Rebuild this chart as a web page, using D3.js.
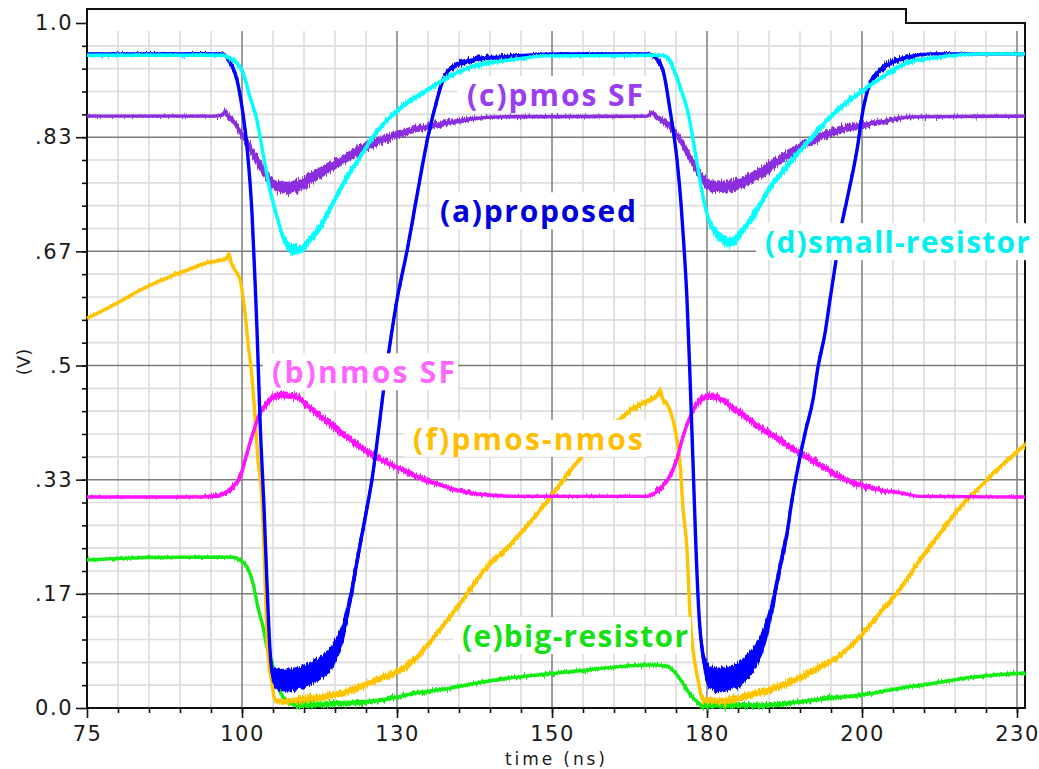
<!DOCTYPE html>
<html>
<head>
<meta charset="utf-8">
<script src="https://cdn.jsdelivr.net/npm/d3@7"></script>
<style>
  html, body { margin: 0; padding: 0; background: #ffffff; }
  svg { display: block; }
</style>
</head>
<body>
<svg id="chart" width="1039" height="769"></svg>
<script>
// ---- axis ticks -------------------------------------------------------
const xTickValues = [75, 100.8, 126.6, 152.4, 178.2, 204, 229.8];
const xTickLabels = ["75", "100", "130", "150", "180", "200", "230"];
const yTickValues = [0, 1 / 6, 2 / 6, 3 / 6, 4 / 6, 5 / 6, 1];
const yTickLabels = ["0.0", ".17", ".33", ".5", ".67", ".83", "1.0"];

// ---- waveforms: [time (ns), voltage (V), noise half-width (V)] --------
const proposed = [
  [75.00, 0.955, 0], [85.49, 0.955, 0], [97.47, 0.955, 0], [98.80, 0.943, 0.003],
  [99.97, 0.917, 0.003], [100.80, 0.877, 0.003], [101.63, 0.819, 0.003], [102.46, 0.723, 0.003],
  [102.96, 0.625, 0.003], [103.30, 0.552, 0.003], [103.80, 0.420, 0.003], [104.46, 0.293, 0.004],
  [104.96, 0.182, 0.004], [105.46, 0.085, 0.006], [105.96, 0.048, 0.010], [107.12, 0.041, 0.015],
  [108.79, 0.041, 0.016], [110.45, 0.044, 0.016], [112.12, 0.050, 0.016], [113.78, 0.058, 0.016],
  [115.95, 0.077, 0.016], [117.61, 0.111, 0.013], [118.78, 0.158, 0.010], [120.44, 0.238, 0.007],
  [122.44, 0.334, 0.005], [124.94, 0.502, 0.004], [126.60, 0.596, 0.003], [128.26, 0.667, 0.003],
  [130.09, 0.756, 0.003], [131.76, 0.834, 0.003], [133.26, 0.888, 0.003], [134.26, 0.917, 0.003],
  [135.92, 0.936, 0.003], [139.25, 0.946, 0.003], [143.74, 0.950, 0.002], [153.73, 0.955, 0],
  [168.21, 0.955, 0], [169.54, 0.950, 0.002], [170.87, 0.931, 0.003], [172.04, 0.873, 0.003],
  [173.21, 0.800, 0.003], [173.87, 0.737, 0.003], [174.37, 0.673, 0.003], [174.87, 0.596, 0.003],
  [175.37, 0.483, 0.003], [175.87, 0.358, 0.004], [176.37, 0.231, 0.004], [176.87, 0.136, 0.006],
  [177.53, 0.077, 0.010], [178.70, 0.044, 0.016], [180.36, 0.041, 0.017], [183.19, 0.048, 0.017],
  [185.85, 0.070, 0.017], [187.52, 0.099, 0.015], [189.18, 0.153, 0.010], [190.35, 0.206, 0.008],
  [191.52, 0.255, 0.007], [192.35, 0.304, 0.005], [193.35, 0.352, 0.004], [194.51, 0.401, 0.004],
  [195.84, 0.450, 0.003], [196.68, 0.498, 0.003], [197.84, 0.547, 0.003], [198.67, 0.596, 0.003],
  [199.51, 0.644, 0.003], [200.34, 0.693, 0.003], [201.50, 0.742, 0.003], [203.17, 0.815, 0.003],
  [204.17, 0.873, 0.003], [205.33, 0.912, 0.003], [207.00, 0.931, 0.003], [209.16, 0.943, 0.003],
  [211.49, 0.950, 0.002], [215.82, 0.955, 0], [231.13, 0.955, 0]
];

const nmosSF = [
  [75.00, 0.308, 0], [90.98, 0.308, 0], [96.31, 0.309, 0.002], [97.97, 0.314, 0.002],
  [99.30, 0.323, 0.003], [100.47, 0.337, 0.003], [101.63, 0.372, 0.003], [102.63, 0.401, 0.003],
  [103.80, 0.431, 0.003], [104.96, 0.445, 0.004], [105.96, 0.454, 0.004], [107.96, 0.457, 0.004],
  [109.95, 0.454, 0.004], [111.62, 0.442, 0.004], [114.28, 0.423, 0.004], [117.11, 0.403, 0.004],
  [119.94, 0.385, 0.004], [122.61, 0.369, 0.004], [125.43, 0.356, 0.003], [128.26, 0.345, 0.003],
  [130.93, 0.334, 0.003], [133.76, 0.326, 0.002], [136.59, 0.318, 0.002], [140.41, 0.312, 0.001],
  [147.07, 0.309, 0], [168.21, 0.309, 0], [169.54, 0.314, 0.002], [170.71, 0.323, 0.003],
  [172.04, 0.339, 0.003], [173.21, 0.364, 0.003], [174.20, 0.396, 0.003], [175.87, 0.434, 0.004],
  [177.53, 0.453, 0.004], [179.20, 0.455, 0.004], [180.70, 0.450, 0.004], [183.69, 0.431, 0.004],
  [187.02, 0.410, 0.004], [190.35, 0.391, 0.004], [193.68, 0.372, 0.004], [197.01, 0.355, 0.004],
  [200.34, 0.337, 0.003], [203.67, 0.326, 0.003], [207.00, 0.318, 0.002], [210.32, 0.314, 0.001],
  [213.65, 0.309, 0], [231.13, 0.308, 0]
];

const pmosSF = [
  [75.00, 0.864, 0], [96.31, 0.864, 0], [97.47, 0.866, 0.002], [97.97, 0.870, 0.003],
  [98.47, 0.864, 0.003], [99.30, 0.857, 0.004], [100.97, 0.834, 0.005], [102.63, 0.810, 0.006],
  [104.30, 0.785, 0.007], [105.96, 0.765, 0.007], [108.29, 0.759, 0.008], [110.45, 0.764, 0.008],
  [112.62, 0.775, 0.007], [115.45, 0.790, 0.007], [118.28, 0.804, 0.006], [120.94, 0.818, 0.006],
  [123.77, 0.828, 0.005], [126.60, 0.837, 0.005], [129.26, 0.844, 0.004], [132.59, 0.851, 0.004],
  [135.92, 0.855, 0.003], [139.25, 0.860, 0.002], [143.74, 0.863, 0.001], [168.21, 0.864, 0],
  [169.04, 0.869, 0.002], [169.71, 0.863, 0.003], [171.54, 0.854, 0.004], [173.71, 0.829, 0.005],
  [175.87, 0.796, 0.006], [177.53, 0.771, 0.007], [179.20, 0.761, 0.008], [181.53, 0.761, 0.008],
  [183.69, 0.766, 0.007], [187.02, 0.781, 0.007], [190.35, 0.800, 0.006], [193.68, 0.819, 0.006],
  [197.01, 0.834, 0.005], [200.34, 0.844, 0.005], [203.67, 0.851, 0.004], [207.00, 0.855, 0.003],
  [210.32, 0.861, 0.002], [212.49, 0.863, 0.001], [231.13, 0.864, 0]
];

const smallResistor = [
  [75.00, 0.953, 0], [97.47, 0.953, 0], [98.80, 0.949, 0.002], [100.97, 0.927, 0.003],
  [102.13, 0.892, 0.003], [103.30, 0.858, 0.003], [104.30, 0.810, 0.003], [105.46, 0.756, 0.004],
  [106.63, 0.717, 0.004], [107.62, 0.688, 0.005], [109.29, 0.669, 0.006], [110.45, 0.669, 0.006],
  [111.62, 0.679, 0.005], [113.78, 0.702, 0.005], [115.95, 0.737, 0.004], [118.28, 0.775, 0.004],
  [120.44, 0.804, 0.003], [122.61, 0.834, 0.003], [124.94, 0.858, 0.003], [128.26, 0.883, 0.003],
  [131.59, 0.902, 0.002], [134.92, 0.920, 0.002], [137.09, 0.930, 0.002], [140.41, 0.939, 0.002],
  [145.41, 0.946, 0.001], [151.57, 0.952, 0], [170.37, 0.953, 0], [171.54, 0.950, 0.002],
  [173.71, 0.907, 0.003], [175.04, 0.869, 0.003], [176.54, 0.796, 0.003], [177.53, 0.746, 0.004],
  [178.70, 0.708, 0.004], [180.36, 0.688, 0.005], [182.03, 0.679, 0.006], [184.19, 0.698, 0.005],
  [186.52, 0.727, 0.005], [189.18, 0.766, 0.004], [192.01, 0.796, 0.004], [194.84, 0.825, 0.003],
  [198.18, 0.858, 0.003], [202.00, 0.888, 0.003], [205.83, 0.912, 0.002], [209.16, 0.931, 0.002],
  [211.49, 0.942, 0.002], [215.82, 0.949, 0.001], [224.14, 0.955, 0], [231.13, 0.955, 0]
];

const bigResistor = [
  [75.00, 0.216, 0], [79.66, 0.218, 0], [90.48, 0.220, 0], [99.30, 0.220, 0],
  [100.47, 0.216, 0.001], [101.63, 0.206, 0.001], [102.63, 0.182, 0.001], [103.46, 0.147, 0.001],
  [104.30, 0.118, 0.001], [104.96, 0.089, 0.001], [105.79, 0.066, 0.002], [106.63, 0.036, 0.002],
  [107.62, 0.016, 0.002], [108.79, 0.007, 0.003], [110.45, 0.004, 0.003], [115.45, 0.006, 0.003],
  [118.78, 0.007, 0.003], [124.27, 0.012, 0.002], [129.93, 0.022, 0.002], [135.42, 0.029, 0.001],
  [140.91, 0.038, 0.001], [146.57, 0.045, 0.001], [152.07, 0.050, 0.001], [157.56, 0.055, 0.001],
  [163.22, 0.060, 0.001], [168.71, 0.063, 0.001], [171.54, 0.061, 0.001], [172.54, 0.055, 0.001],
  [174.20, 0.036, 0.002], [175.37, 0.020, 0.002], [176.54, 0.009, 0.002], [177.53, 0.003, 0.003],
  [188.18, 0.004, 0.003], [193.68, 0.009, 0.002], [199.17, 0.015, 0.002], [204.00, 0.019, 0.001],
  [210.32, 0.029, 0.001], [215.82, 0.036, 0.001], [221.48, 0.044, 0.001], [231.13, 0.051, 0.001]
];

const pmosNmos = [
  [75.00, 0.569, 0], [79.99, 0.591, 0], [83.82, 0.610, 0], [88.32, 0.628, 0.001],
  [91.64, 0.639, 0.001], [94.97, 0.650, 0.001], [97.47, 0.654, 0.001], [98.30, 0.657, 0.002],
  [98.64, 0.663, 0.002], [98.97, 0.651, 0.002], [99.64, 0.639, 0.002], [100.47, 0.625, 0.002],
  [101.30, 0.577, 0.002], [101.80, 0.533, 0.002], [102.46, 0.483, 0.002], [102.96, 0.425, 0.002],
  [103.46, 0.362, 0.002], [104.13, 0.304, 0.002], [104.46, 0.231, 0.002], [104.80, 0.143, 0.002],
  [105.13, 0.077, 0.002], [105.79, 0.036, 0.002], [106.29, 0.012, 0.003], [107.12, 0.009, 0.003],
  [110.45, 0.012, 0.004], [115.95, 0.019, 0.004], [118.78, 0.025, 0.004], [121.61, 0.035, 0.004],
  [124.27, 0.045, 0.004], [127.10, 0.055, 0.004], [129.93, 0.074, 0.003], [132.59, 0.102, 0.003],
  [135.42, 0.133, 0.003], [138.25, 0.166, 0.003], [140.91, 0.199, 0.003], [145.41, 0.238, 0.003],
  [151.57, 0.301, 0.003], [157.06, 0.364, 0.003], [161.22, 0.399, 0.003], [165.38, 0.434, 0.003],
  [168.71, 0.450, 0.003], [170.04, 0.457, 0.003], [170.37, 0.464, 0.003], [170.87, 0.450, 0.003],
  [171.54, 0.444, 0.003], [172.54, 0.420, 0.002], [173.21, 0.391, 0.002], [173.71, 0.358, 0.002],
  [174.20, 0.293, 0.002], [174.87, 0.231, 0.002], [175.37, 0.136, 0.002], [175.87, 0.085, 0.002],
  [176.70, 0.041, 0.003], [177.53, 0.012, 0.003], [180.36, 0.010, 0.004], [185.85, 0.020, 0.004],
  [191.52, 0.036, 0.004], [197.01, 0.060, 0.004], [199.84, 0.074, 0.003], [203.67, 0.104, 0.003],
  [207.00, 0.139, 0.003], [209.83, 0.168, 0.003], [213.65, 0.216, 0.003], [216.98, 0.255, 0.003],
  [220.31, 0.293, 0.003], [223.64, 0.323, 0.002], [226.97, 0.352, 0.002], [231.13, 0.384, 0.002]
];

// ---- drawing order and colours -----------------------------------------
const series = [
  { key: "big-resistor",   values: bigResistor,   color: "#14ec14" },
  { key: "pmos-nmos",      values: pmosNmos,      color: "#ffc400" },
  { key: "nmos SF",        values: nmosSF,        color: "#ff14ff" },
  { key: "pmos SF",        values: pmosSF,        color: "#8a2ee0" },
  { key: "proposed",       values: proposed,      color: "#0000ff" },
  { key: "small-resistor", values: smallResistor, color: "#00ffff" }
];

// in-plot labels: anchor is the left end of the baseline, in data units
const labels = [
  { text: "(a)proposed",       at: [133.76, 0.709], width: 196, color: "#0000dc" },
  { text: "(b)nmos SF",        at: [105.79, 0.474], width: 183, color: "#ff66ff" },
  { text: "(c)pmos SF",        at: [138.25, 0.879], width: 176, color: "#9a3cf0" },
  { text: "(d)small-resistor", at: [187.85, 0.664], width: 265, color: "#00f0f0" },
  { text: "(e)big-resistor",   at: [137.42, 0.089], width: 226, color: "#14e014" },
  { text: "(f)pmos-nmos",      at: [129.26, 0.377], width: 230, color: "#ffbe00" }
];

// ---- layout ------------------------------------------------------------
const svg = d3.select("#chart");
const x = d3.scaleLinear().domain([75, 231.13]).range([87, 1025]);
const y = d3.scaleLinear().domain([0, 1]).range([708, 23]);
const gridTop = 31;
const xStep = xTickValues[1] - xTickValues[0];
const minorX = d3.range(1, 31).map(i => 75 + i * xStep / 5);
const minorY = d3.range(1, 30).map(i => i / 30);

// vertical jitter used to roughen the noisy stretches of each trace
const defs = svg.append("defs");
const jitter = defs.append("filter").attr("id", "jitter")
  .attr("filterUnits", "userSpaceOnUse")
  .attr("x", 0).attr("y", 0).attr("width", 1039).attr("height", 769)
  .attr("color-interpolation-filters", "sRGB");
jitter.append("feTurbulence").attr("type", "fractalNoise")
  .attr("baseFrequency", "0.75 0.06").attr("numOctaves", 2).attr("seed", 7)
  .attr("result", "noise");
jitter.append("feColorMatrix").attr("in", "noise").attr("type", "matrix")
  .attr("values", "0 0 0 0 0.5  1 0 0 0 0  0 0 0 0 0  0 0 0 0 1")
  .attr("result", "shift");
jitter.append("feDisplacementMap").attr("in", "SourceGraphic").attr("in2", "shift")
  .attr("scale", 9).attr("xChannelSelector", "R").attr("yChannelSelector", "G");

// grid: light minor lines first, darker major lines on top
const grid = svg.append("g");
grid.selectAll("line.vminor").data(minorX.filter((d, i) => (i + 1) % 5 !== 0)).join("line")
  .attr("x1", d => x(d)).attr("x2", d => x(d))
  .attr("y1", gridTop).attr("y2", y(0))
  .attr("stroke", "#dddddd").attr("stroke-width", 1.7);
grid.selectAll("line.hminor").data(minorY.filter((d, i) => (i + 1) % 5 !== 0)).join("line")
  .attr("x1", x.range()[0]).attr("x2", x.range()[1])
  .attr("y1", d => y(d)).attr("y2", d => y(d))
  .attr("stroke", "#dddddd").attr("stroke-width", 1.7);
grid.selectAll("line.vmajor").data(xTickValues.slice(1)).join("line")
  .attr("x1", d => x(d)).attr("x2", d => x(d))
  .attr("y1", gridTop).attr("y2", y(0))
  .attr("stroke", "#7c7c7c").attr("stroke-width", 1.5);
grid.selectAll("line.hmajor").data(yTickValues.slice(1, -1)).join("line")
  .attr("x1", x.range()[0]).attr("x2", x.range()[1])
  .attr("y1", d => y(d)).attr("y2", d => y(d))
  .attr("stroke", "#7c7c7c").attr("stroke-width", 1.5);

// frame with the raised strip along the top
svg.append("path")
  .attr("d", `M${x(75)},${y(0)} V9 H906 V${y(1)} H${x.range()[1]} V${y(0)} Z`)
  .attr("fill", "none").attr("stroke", "#111").attr("stroke-width", 2);

// ---- axes --------------------------------------------------------------
const tickFont = "'DejaVu Sans', Verdana, sans-serif";
const xAxis = svg.append("g").attr("transform", `translate(0,${y(0)})`)
  .call(d3.axisBottom(x).tickValues(xTickValues)
    .tickFormat((d, i) => xTickLabels[i]).tickSize(10).tickPadding(8));
const xMinor = svg.append("g").attr("transform", `translate(0,${y(0)})`)
  .call(d3.axisBottom(x).tickValues(minorX).tickFormat("").tickSize(5));
const yAxis = svg.append("g").attr("transform", `translate(${x(75)},0)`)
  .call(d3.axisLeft(y).tickValues(yTickValues)
    .tickFormat((d, i) => yTickLabels[i]).tickSize(11).tickPadding(3));
const yMinor = svg.append("g").attr("transform", `translate(${x(75)},0)`)
  .call(d3.axisLeft(y).tickValues(minorY).tickFormat("").tickSize(5));

[xAxis, xMinor, yAxis, yMinor].forEach(g => {
  g.select(".domain").remove();
  g.selectAll(".tick line").attr("stroke", "#111").attr("stroke-width", 1.6);
  g.selectAll(".tick text")
    .attr("fill", "#1a1a1a")
    .style("font-family", tickFont)
    .style("font-size", "21px")
    .style("letter-spacing", "1.5px");
});

svg.append("text")
  .attr("x", 555).attr("y", 765)
  .attr("text-anchor", "middle")
  .attr("textLength", 100).attr("lengthAdjust", "spacing")
  .style("font-family", tickFont).style("font-size", "17px")
  .attr("fill", "#1a1a1a")
  .text("time (ns)");

svg.append("text")
  .attr("transform", "translate(30,362) rotate(-90)")
  .attr("text-anchor", "middle")
  .style("font-family", tickFont).style("font-size", "18px")
  .attr("fill", "#1a1a1a")
  .text("(V)");

// ---- waveforms ---------------------------------------------------------
const line = d3.line().x(d => x(d[0])).y(d => y(d[1])).curve(d3.curveMonotoneX);
const band = d3.area().x(d => x(d[0]))
  .y0(d => y(d[1] - d[2])).y1(d => y(d[1] + d[2]))
  .curve(d3.curveMonotoneX);

const traces = svg.append("g");
series.forEach(s => {
  const g = traces.append("g").attr("class", "trace");
  g.append("path").datum(s.values)
    .attr("d", line).attr("fill", "none")
    .attr("stroke", s.color).attr("stroke-width", 3.4)
    .attr("stroke-linejoin", "round");
  g.append("path").datum(s.values)
    .attr("d", band).attr("fill", s.color)
    .attr("stroke", s.color).attr("stroke-width", 1.5)
    .attr("filter", "url(#jitter)");
});

// ---- labels on white boxes ---------------------------------------------
const labelLayer = svg.append("g");
labels.forEach(l => {
  const g = labelLayer.append("g");
  const t = g.append("text")
    .attr("x", x(l.at[0])).attr("y", y(l.at[1]))
    .attr("textLength", l.width).attr("lengthAdjust", "spacing")
    .style("font-family", "'Open Sans', 'Noto Sans', sans-serif")
    .style("font-weight", 700).style("font-size", "30px")
    .attr("fill", l.color)
    .text(l.text);
  const bb = t.node().getBBox();
  g.insert("rect", "text")
    .attr("x", bb.x - 9).attr("y", bb.y + 2)
    .attr("width", bb.width + 12).attr("height", bb.height - 4)
    .attr("fill", "#ffffff");
});
</script>
</body>
</html>
